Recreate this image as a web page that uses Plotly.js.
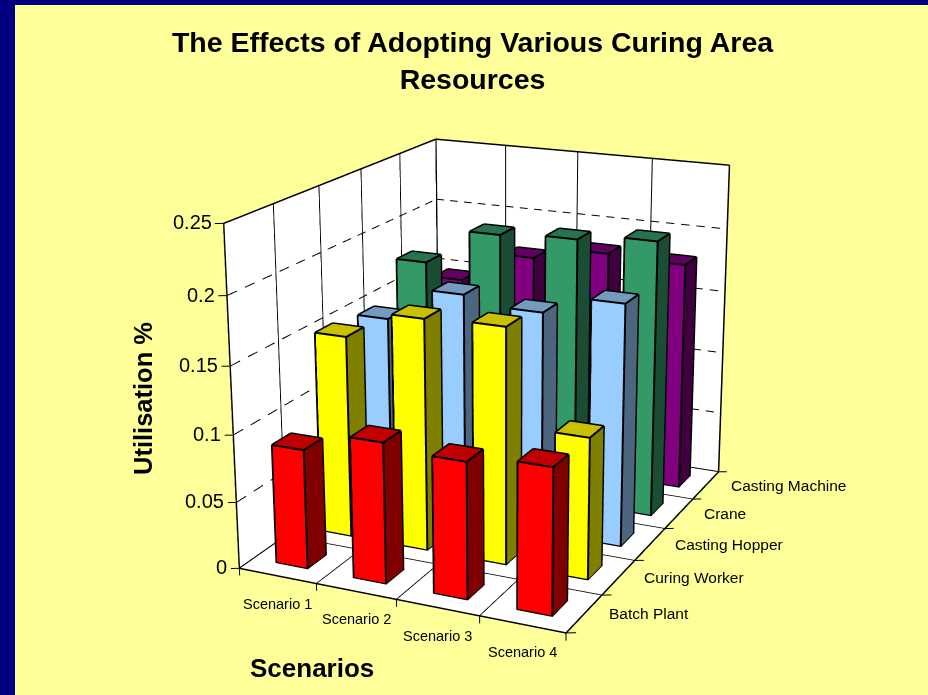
<!DOCTYPE html>
<html><head><meta charset="utf-8">
<script src="https://cdn.plot.ly/plotly-3.0.1.min.js"></script>
<style>
html,body{margin:0;padding:0;overflow:hidden;background:#FFFF99}
#wrap{position:fixed;left:0;top:0;width:928px;height:695px;overflow:hidden}
#gd{position:absolute;left:-1px;top:-441px;width:1014px;height:1557px}
</style></head><body><div id="wrap"><div id="gd"></div></div>
<script>
const titleLines = ['The Effects of Adopting Various Curing Area','Resources'];
const scenarios = ['Scenario 1','Scenario 2','Scenario 3','Scenario 4'];
const seriesNames = ['Batch Plant','Curing Worker','Casting Hopper','Crane','Casting Machine'];
const batchPlant    = [0.089,0.104,0.100,0.106];
const curingWorker  = [0.153,0.174,0.176,0.105];
const castingHopper = [0.149,0.175,0.169,0.183];
const crane         = [0.177,0.205,0.208,0.213];
const castingMachine= [0.147,0.172,0.182,0.180];
const zTicks = [0,0.05,0.1,0.15,0.2,0.25];
const zTickLabels = ['0','0.05','0.1','0.15','0.2','0.25'];
const allValues = [batchPlant,curingWorker,castingHopper,crane,castingMachine];
const faceColours = [
 {front:'#FF0000',top:'#C00000',side:'#800000'},
 {front:'#FFFF00',top:'#C8C000',side:'#808000'},
 {front:'#99CCFF',top:'#739ABF',side:'#4D6680'},
 {front:'#339966',top:'#267350',side:'#1A4D33'},
 {front:'#800080',top:'#600060',side:'#400040'}];

// page box of the drawn figure (wider and taller than the window so the fixed 45deg lens gives the weak perspective)
const W=1014,H=1557,TOP=-441,LEFT=-1;
const px=v=>(v-LEFT)/W, py=v=>1-(v-TOP)/H;
const nx=scenarios.length, ny=seriesNames.length, zmax=0.25;
const padX=0.12,padY=0.12,padZ=0.006;
const box=[0.2031,0.2594,0.2035];
const eyeRaw=[0.4464,-0.9717,0.3425], lookRaw=[0.0051,0.0064,0.0123];
let asp=[box[0]*(nx+2*padX)/nx, box[1]*(ny+2*padY)/ny, box[2]*(zmax+2*padZ)/zmax];
const s=1/Math.cbrt(asp[0]*asp[1]*asp[2]);
asp=asp.map(v=>v*s);
const eye=eyeRaw.map(v=>v*s), look=lookRaw.map(v=>v*s);

const traces=[];
const flat={ambient:1,diffuse:0,specular:0,roughness:1,fresnel:0};
function quadMesh(name,quads,colours){
  const x=[],y=[],z=[],i=[],j=[],k=[],fc=[];
  quads.forEach((q,n)=>{
    const b=x.length;
    q.forEach(p=>{x.push(p[0]);y.push(p[1]);z.push(p[2]);});
    i.push(b,b);j.push(b+1,b+2);k.push(b+2,b+3);
    fc.push(colours[n],colours[n]);
  });
  traces.push({type:'mesh3d',name,x,y,z,i,j,k,facecolor:fc,flatshading:true,lighting:flat,hoverinfo:'skip',showscale:false});
}
// walls and floor
const e=0.006;
quadMesh('walls',[
 [[0,0,0],[nx,0,0],[nx,ny,0],[0,ny,0]].map(p=>[p[0],p[1],-0.0002]),
 [[-e,0,0],[-e,ny,0],[-e,ny,zmax],[-e,0,zmax]],
 [[0,ny+e,0],[nx,ny+e,0],[nx,ny+e,zmax],[0,ny+e,zmax]]
],['#FFFFFF','#FFFFFF','#FFFFFF']);

function lineTrace(name,segs,color,width){
  const x=[],y=[],z=[];
  segs.forEach(sg=>{sg.forEach(p=>{x.push(p[0]);y.push(p[1]);z.push(p[2]);});x.push(null);y.push(null);z.push(null);});
  traces.push({type:'scatter3d',mode:'lines',name,x,y,z,line:{color,width},hoverinfo:'skip',showlegend:false});
}
const grid=[],dashed=[],ticks=[],frame=[];
for(let i=1;i<nx;i++){grid.push([[i,0,0],[i,ny,0]]);grid.push([[i,ny,0],[i,ny,zmax]]);}
for(let j=1;j<ny;j++){grid.push([[0,j,0],[nx,j,0]]);grid.push([[0,j,0],[0,j,zmax]]);}
const dashPeriodY=0.36,dashPeriodX=0.2,dashFill=0.55;
zTicks.slice(1,-1).forEach(v=>{
  for(let t=0;t<ny-1e-6;t+=dashPeriodY)dashed.push([[0,t,v],[0,Math.min(ny,t+dashPeriodY*dashFill),v]]);
  for(let t=0;t<nx-1e-6;t+=dashPeriodX)dashed.push([[t,ny,v],[Math.min(nx,t+dashPeriodX*dashFill),ny,v]]);
});
frame.push([[0,0,0],[nx,0,0]],[[nx,0,0],[nx,ny,0]],[[nx,ny,0],[0,ny,0]],[[0,ny,0],[0,0,0]],
 [[0,0,0],[0,0,zmax]],[[0,ny,0],[0,ny,zmax]],[[nx,ny,0],[nx,ny,zmax]],
 [[0,0,zmax],[0,ny,zmax]],[[0,ny,zmax],[nx,ny,zmax]]);
zTicks.forEach(v=>ticks.push([[0,0,v],[-0.083,-0.042,v]]));
for(let i=0;i<=nx;i++)ticks.push([[i,0,0],[i,0,-0.0055]]);
for(let j=0;j<=ny;j++)ticks.push([[nx,j,0],[nx+0.094,j+0.047,0]]);
lineTrace('grid',grid,'#000000',2);
lineTrace('gridDash',dashed,'#000000',2);
lineTrace('frame',frame,'#000000',3);
lineTrace('ticks',ticks,'#000000',2);

// bars
const lo=0.31,hi=0.71,ex=0.004;
const edges=[];
allValues.forEach((vals,sIdx)=>{
  const quads=[],cols=[],c=faceColours[sIdx];
  vals.forEach((v,i)=>{
    const x0=i+lo,x1=i+hi,y0=sIdx+lo-0.01,y1=sIdx+hi-0.01;
    quads.push([[x0,y0,0],[x1,y0,0],[x1,y0,v],[x0,y0,v]]);cols.push(c.front);
    quads.push([[x1,y0,0],[x1,y1,0],[x1,y1,v],[x1,y0,v]]);cols.push(c.side);
    quads.push([[x0,y0,v],[x1,y0,v],[x1,y1,v],[x0,y1,v]]);cols.push(c.top);
    quads.push([[x0,y1,0],[x1,y1,0],[x1,y1,v],[x0,y1,v]]);cols.push(c.side);
    quads.push([[x0,y0,0],[x0,y1,0],[x0,y1,v],[x0,y0,v]]);cols.push(c.side);
    const a=x0-ex,b=x1+ex,d=y0-ex,f=y1+ex,t=v+0.0003;
    edges.push([[a,d,0],[b,d,0]],[[b,d,0],[b,f,0]],
      [[a,d,0],[a,d,t]],[[b,d,0],[b,d,t]],[[b,f,0],[b,f,t]],
      [[a,d,t],[b,d,t]],[[b,d,t],[b,f,t]],[[b,f,t],[a,f,t]],[[a,f,t],[a,d,t]]);
  });
  quadMesh(seriesNames[sIdx],quads,cols);
});
lineTrace('barEdges',edges,'#000000',4);

const F='"Liberation Sans",Arial,sans-serif';
const annos3d=[];
zTicks.forEach((v,n)=>annos3d.push({x:0,y:0,z:v,text:zTickLabels[n],showarrow:false,xanchor:'right',yanchor:'middle',xshift:-10,yshift:1,font:{family:F,size:20,color:'#000'}}));
scenarios.forEach((t,i)=>annos3d.push({x:i+0.5,y:0,z:0,text:t,showarrow:false,xanchor:'center',yanchor:'middle',yshift:-28,font:{family:F,size:14.5,color:'#000'}}));
seriesNames.forEach((t,j)=>annos3d.push({x:nx,y:j+0.5,z:0,text:t,showarrow:false,xanchor:'left',yanchor:'middle',xshift:23,font:{family:F,size:15.5,color:'#000'}}));
const noAxis=r=>({range:r,autorange:false,visible:false,showgrid:false,zeroline:false,showline:false,showticklabels:false,showbackground:false,showspikes:false,title:{text:''}});

const layout={
 width:W,height:H,autosize:false,margin:{l:0,r:0,t:0,b:0,pad:0},showlegend:false,
 paper_bgcolor:'#FFFF99',
 title:{text:titleLines.join('<br>'),x:px(472.5),xanchor:'center',y:py(52),yanchor:'middle',yref:'container',xref:'container',automargin:false,font:{family:F,size:28.5,color:'#000',weight:'bold'}},
 shapes:[
  {type:'rect',xref:'paper',yref:'paper',x0:0,x1:px(15),y0:py(700),y1:py(-5),fillcolor:'#000080',line:{width:0},layer:'below'},
  {type:'rect',xref:'paper',yref:'paper',x0:0,x1:1,y0:py(5),y1:py(-5),fillcolor:'#000080',line:{width:0},layer:'below'}],
 annotations:[
  {xref:'paper',yref:'paper',x:px(312),y:py(668),text:'<b>Scenarios</b>',showarrow:false,xanchor:'center',yanchor:'middle',font:{family:F,size:26,color:'#000'}},
  {xref:'paper',yref:'paper',x:px(143),y:py(399),text:'<b>Utilisation %</b>',textangle:-90,showarrow:false,xanchor:'center',yanchor:'middle',font:{family:F,size:25.5,color:'#000'}}],
 scene:{domain:{x:[0,1],y:[0,1]},bgcolor:'rgba(0,0,0,0)',dragmode:false,
  aspectmode:'manual',aspectratio:{x:asp[0],y:asp[1],z:asp[2]},
  camera:{projection:{type:'perspective'},up:{x:0,y:0,z:1},eye:{x:eye[0],y:eye[1],z:eye[2]},center:{x:look[0],y:look[1],z:look[2]}},
  xaxis:noAxis([-padX,nx+padX]),yaxis:noAxis([-padY,ny+padY]),zaxis:noAxis([-padZ,zmax+padZ]),
  annotations:annos3d}
};
Plotly.newPlot('gd',traces,layout,{displayModeBar:false,staticPlot:false,responsive:false});
</script></body></html>
